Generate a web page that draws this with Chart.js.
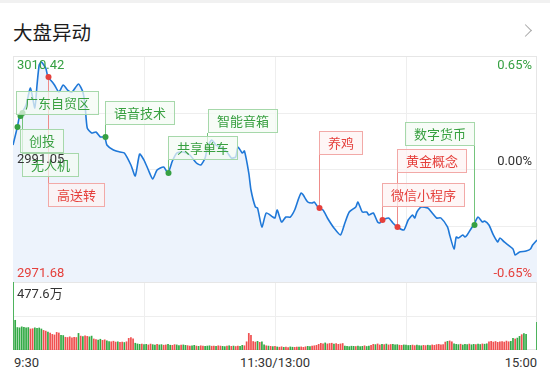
<!DOCTYPE html>
<html>
<head>
<meta charset="utf-8">
<script src="https://cdn.jsdelivr.net/npm/chart.js@4.4.1/dist/chart.umd.min.js"></script>
<style>
body { margin: 0; width: 550px; height: 375px; overflow: hidden; background: #fff; position: relative;
       font-family: Roboto, "Noto Sans CJK SC", sans-serif; }
.topline { position: absolute; left: 0; top: 0; width: 550px; height: 3px; background: #f1f1f1; }
#title { position: absolute; left: 13px; top: 19px; font-family: "Noto Sans CJK SC"; font-size: 19.5px; line-height: 26px; color: #1c1c1c; }
#chev { position: absolute; left: 521px; top: 26px; width: 8px; height: 8px; border-top: 1.5px solid #a8a8a8; border-right: 1.5px solid #a8a8a8; transform: rotate(45deg); }
canvas { position: absolute; }
.lbl { position: absolute; z-index: 2; font-size: 13px; line-height: 15px; white-space: nowrap; color: #333; }
.green { color: #36a042; }
.red { color: #e5403c; }
.tag { position: absolute; z-index: 1; font-family: "Noto Sans CJK SC"; font-size: 13px; line-height: 22px; height: 22px; padding: 0 8px; border: 1px solid; white-space: nowrap; }
.tag.g { color: #38a040; border-color: #a6d8aa; background: rgba(244, 251, 244, 0.72); }
.tag.r { color: #e5403c; border-color: #f2a9a7; background: rgba(253, 242, 242, 0.72); }
</style>
</head>
<body>
<div class="topline"></div>
<div id="title">大盘异动</div>
<div id="chev"></div>
<canvas id="price" width="524" height="226" style="left:13px;top:56px"></canvas>
<canvas id="vol" width="524" height="68" style="left:13px;top:282px"></canvas>
<script>
// minute index from 9:30 (0..120 morning, 121..240 afternoon) and index price
var minutes = [
    0, 2, 3, 4, 6, 8, 10, 11, 12, 13,
    15, 16, 18, 19, 21, 23, 25, 27, 30, 32,
    33, 34, 36, 38, 40, 42, 43, 46, 49, 51,
    54, 56, 58, 60, 62, 64, 66, 69, 71, 73,
    75, 78, 81, 84, 86, 88, 89, 91, 93, 95,
    98, 100, 102, 103, 105, 106, 108, 109, 111, 112,
    114, 116, 119, 120, 121, 123, 125, 127, 129, 132,
    135, 137, 138, 140, 142, 144, 147, 150, 152, 154,
    157, 158, 160, 162, 163, 165, 167, 168, 169, 172,
    174, 176, 179, 181, 183, 184, 185, 187, 190, 192,
    194, 196, 199, 200, 202, 203, 204, 206, 207, 208,
    210, 211, 213, 215, 216, 218, 220, 222, 223, 225,
    229, 230, 232, 235, 237, 238, 240
];
var prices = [
    2995.16, 2998.25, 3000.14, 3000.65, 3002.02, 3004.93, 3001.51, 3005.45, 3008.88, 3009.39,
    3008.36, 3006.82, 3005.96, 3005.45, 3004.25, 3005.45, 3004.59, 3004.25, 3005.62, 3004.25,
    3002.02, 2998.08, 2997.22, 2997.39, 2996.54, 2996.54, 2995.16, 2994.31, 2993.96, 2993.79,
    2991.74, 2989.85, 2993.62, 2992.59, 2990.88, 2989.34, 2990.88, 2991.39, 2990.36, 2992.42,
    2993.79, 2993.96, 2993.45, 2992.08, 2991.74, 2992.94, 2994.65, 2996.02, 2995.16, 2994.82,
    2993.96, 2992.94, 2993.11, 2994.82, 2993.79, 2994.14, 2990.36, 2987.45, 2984.54, 2984.36,
    2981.11, 2983.51, 2982.82, 2982.65, 2984.02, 2981.96, 2982.82, 2982.82, 2984.02, 2986.94,
    2985.39, 2985.22, 2985.39, 2984.36, 2984.02, 2982.65, 2980.94, 2979.74, 2981.79, 2983.68,
    2984.54, 2985.39, 2983.68, 2983.68, 2983.16, 2983.51, 2981.96, 2981.79, 2982.31, 2982.65,
    2981.79, 2981.11, 2980.59, 2982.31, 2983.16, 2982.65, 2983.68, 2984.54, 2984.36, 2983.51,
    2982.65, 2982.65, 2981.11, 2979.74, 2977.34, 2979.39, 2979.22, 2979.74, 2979.39, 2979.74,
    2980.94, 2981.45, 2982.82, 2981.96, 2982.14, 2981.45, 2979.74, 2978.54, 2979.22, 2978.54,
    2977.34, 2976.31, 2976.82, 2976.99, 2977.34, 2978.02, 2978.88
];

// volume per minute (万), one bar per minute 0..240
var volumes = [
    477.6, 211, 160, 158, 165, 162, 158, 160, 150, 152,
    158, 155, 157, 150, 140, 135, 128, 122, 112, 108,
    126, 122, 105, 104, 92, 90, 95, 88, 92, 90,
    119, 100, 96, 102, 98, 95, 100, 80, 76, 72,
    78, 70, 74, 66, 62, 60, 64, 58, 60, 56,
    58, 55, 60, 84, 90, 80, 50, 45, 42, 44,
    40, 42, 38, 44, 40, 36, 42, 38, 40, 36,
    38, 42, 36, 35, 40, 38, 34, 36, 38, 35,
    33, 30, 32, 35, 30, 28, 32, 30, 28, 30,
    32, 29, 30, 28, 32, 30, 28, 26, 30, 32,
    28, 30, 27, 29, 28, 35, 32, 60, 119, 105,
    62, 58, 63, 56, 60, 38, 32, 30, 28, 26,
    28, 24, 22, 25, 21, 23, 20, 24, 22, 21,
    23, 22, 24, 21, 25, 28, 26, 30, 32, 35,
    42, 49, 46, 52, 45, 48, 50, 44, 47, 42,
    45, 48, 30, 28, 26, 29, 28, 27, 30, 26,
    28, 32, 27, 30, 35, 42, 40, 45, 38, 42,
    40, 44, 38, 41, 42, 39, 40, 36, 35, 38,
    36, 34, 35, 37, 33, 36, 34, 32, 35, 33,
    36, 34, 38, 35, 40, 42, 38, 40, 58, 63,
    66, 60, 45, 42, 40, 43, 38, 42, 40, 44,
    39, 42, 40, 44, 41, 45, 43, 46, 60, 63,
    58, 62, 56, 60, 62, 58, 65, 60, 63, 84,
    80, 86, 98, 110, 118, 112, 0, 0, 0, 0,
    197
];
// R = price up that minute, G = down
var volDir = [
    'GGGGGGGGRR', 'GGGGRRGRRR', 'RRGGRRRRRR', 'GRGRRGGRRG', 'GRRGGRRRGR',
    'RGRRRRGGGR', 'GGRRGGRGGR', 'RGGRRGGRGG', 'RRGGRGRRGG', 'GRRGRRGGRG',
    'RGRRGGRRRR', 'RRGRGGRGRG', 'RGRRGRRGGR', 'RGRRRGGRRR', 'RRRGRRRGRR',
    'RRGGGGGRGG', 'GRGGRRGRRG', 'RGRRGGGRRG', 'GGGRRGGGRR', 'GGRRRRRRRG',
    'RRGGGRGGGR', 'GGRGGRGGRR', 'RRRRRRRRGG', 'RGGRGGGGGG', 'G'
].join('');

var priceTicks = ['3010.42', '2991.05', '2971.68'];
var pctTicks = ['0.65%', '0.00%', '-0.65%'];
var timeTicks = ['9:30', '11:30/13:00', '15:00'];
var volMaxLabel = '477.6万';

// event tags
var tagNames = ['创投', '无人机', '广东自贸区', '高送转', '语音技术', '共享单车', '智能音箱', '养鸡', '微信小程序', '黄金概念', '数字货币'];
var tagMinutes = [2, 4, 3, 16, 42, 71, 89, 140, 169, 176, 211];
var tagKinds = ['g', 'g', 'g', 'r', 'g', 'g', 'g', 'r', 'r', 'r', 'g'];

// layout of the tag boxes (page px)
var tagBoxTop = [129, 153, 91, 183, 101, 136, 109, 131, 183, 149, 122];
var tagBoxDx = [3, 0, -4, 0, 0, 0, 1, 0, 0, 0, 0];
var tagAlign = ['l', 'l', 'l', 'l', 'l', 'l', 'l', 'l', 'l', 'l', 'r'];
var TAG_H = 24, PRICE_TOP = 56;

var pMax = parseFloat(priceTicks[0]), pMin = parseFloat(priceTicks[2]);
var vMax = parseFloat(volMaxLabel);

function addLabel(text, cls, css) {
    var d = document.createElement('div');
    d.className = 'lbl ' + cls;
    d.textContent = text;
    for (var k in css) d.style[k] = css[k];
    document.body.appendChild(d);
    return d;
}

var gridPlugin = {
    id: 'grid',
    beforeDatasetsDraw: function(chart, args, opts) {
        var ctx = chart.ctx, a = chart.chartArea, xs = chart.scales.x, ys = chart.scales.y;
        ctx.save();
        ctx.strokeStyle = '#eeeeee';
        ctx.lineWidth = 1;
        ctx.beginPath();
        [60, 120, 180].forEach(function(m) {
            var x = Math.round(xs.getPixelForValue(m)) + 0.5;
            ctx.moveTo(x, a.top); ctx.lineTo(x, a.bottom);
        });
        opts.rows.forEach(function(f) {
            var y = Math.round(ys.getPixelForDecimal(f)) + 0.5;
            ctx.moveTo(a.left, y); ctx.lineTo(a.right, y);
        });
        ctx.stroke();
        ctx.strokeStyle = '#e6e6e6';
        ctx.strokeRect(a.left + 0.5, a.top + 0.5, a.width - 1, a.height - 1);
        ctx.restore();
    }
};

function priceAt(m) {
    return prices[minutes.indexOf(m)];
}

var tagPlugin = {
    id: 'tags',
    afterDatasetsDraw: function(chart) {
        var ctx = chart.ctx, xs = chart.scales.x, ys = chart.scales.y;
        ctx.save();
        tagNames.forEach(function(name, i) {
            var x = Math.round(xs.getPixelForValue(tagMinutes[i])) + 0.5;
            var y = ys.getPixelForValue(priceAt(tagMinutes[i]));
            var top = tagBoxTop[i] - PRICE_TOP;
            var end = top > y ? top : top + TAG_H;
            var col = tagKinds[i] === 'g' ? '#36a042' : '#e5403c';
            ctx.strokeStyle = tagKinds[i] === 'g' ? '#74c47c' : '#ee8c8a';
            ctx.lineWidth = 1;
            ctx.beginPath();
            ctx.moveTo(x, y);
            ctx.lineTo(x, end);
            ctx.stroke();
            ctx.fillStyle = col;
            ctx.beginPath();
            ctx.arc(x, y, 3, 0, Math.PI * 2);
            ctx.fill();
        });
        ctx.restore();
    }
};

var priceChart = new Chart(document.getElementById('price'), {
    type: 'line',
    data: {
        datasets: [{
            data: minutes.map(function(m, i) { return { x: m, y: prices[i] }; }),
            borderColor: '#1f78d8',
            borderWidth: 1.6,
            backgroundColor: '#edf3fc',
            fill: 'start',
            pointRadius: 0,
            tension: 0.2,
            clip: 4
        }]
    },
    options: {
        animation: false,
        responsive: false,
        devicePixelRatio: 1,
        events: [],
        layout: { padding: 0 },
        plugins: { legend: { display: false }, tooltip: { enabled: false }, grid: { rows: [0.25, 0.5, 0.75] } },
        scales: {
            x: { type: 'linear', min: 0, max: 240, display: false },
            y: { min: pMin, max: pMax, display: false }
        }
    },
    plugins: [gridPlugin, tagPlugin]
});

new Chart(document.getElementById('vol'), {
    type: 'bar',
    data: {
        datasets: [{
            data: volumes.map(function(v, i) { return { x: i, y: v }; }),
            backgroundColor: volumes.map(function(v, i) { return volDir[i] === 'R' ? '#f05050' : '#33aa45'; }),
            barPercentage: 0.78,
            categoryPercentage: 1,
            clip: false
        }]
    },
    options: {
        animation: false,
        responsive: false,
        devicePixelRatio: 1,
        events: [],
        layout: { padding: 0 },
        plugins: { legend: { display: false }, tooltip: { enabled: false }, grid: { rows: [0.5] } },
        scales: {
            x: { type: 'linear', min: 0, max: 240, display: false, offset: false, grid: { offset: false } },
            y: { min: 0, max: vMax, display: false }
        }
    },
    plugins: [gridPlugin]
});

// tag boxes
var xs = priceChart.scales.x;
tagNames.forEach(function(name, i) {
    var px = 13 + Math.round(xs.getPixelForValue(tagMinutes[i]));
    var d = document.createElement('div');
    d.className = 'tag ' + tagKinds[i];
    d.textContent = name;
    d.style.top = tagBoxTop[i] + 'px';
    document.body.appendChild(d);
    if (tagAlign[i] === 'r') d.style.left = (px - d.offsetWidth + 1) + 'px';
    else d.style.left = (px + tagBoxDx[i]) + 'px';
});

// axis texts
addLabel(priceTicks[0], 'green', { left: '17px', top: '57px' });
addLabel(priceTicks[1], '', { left: '17px', top: '151px' });
addLabel(priceTicks[2], 'red', { left: '17px', top: '265px' });
addLabel(pctTicks[0], 'green', { right: '18px', top: '57px' });
addLabel(pctTicks[1], '', { right: '18px', top: '153px' });
addLabel(pctTicks[2], 'red', { right: '18px', top: '265px' });
addLabel(volMaxLabel, '', { left: '17px', top: '286px' });
addLabel(timeTicks[0], '', { left: '14px', top: '355px' });
var mid = addLabel(timeTicks[1], '', { top: '355px' });
mid.style.left = (275 - mid.offsetWidth / 2) + 'px';
addLabel(timeTicks[2], '', { right: '13px', top: '355px' });
</script>
</body>
</html>
